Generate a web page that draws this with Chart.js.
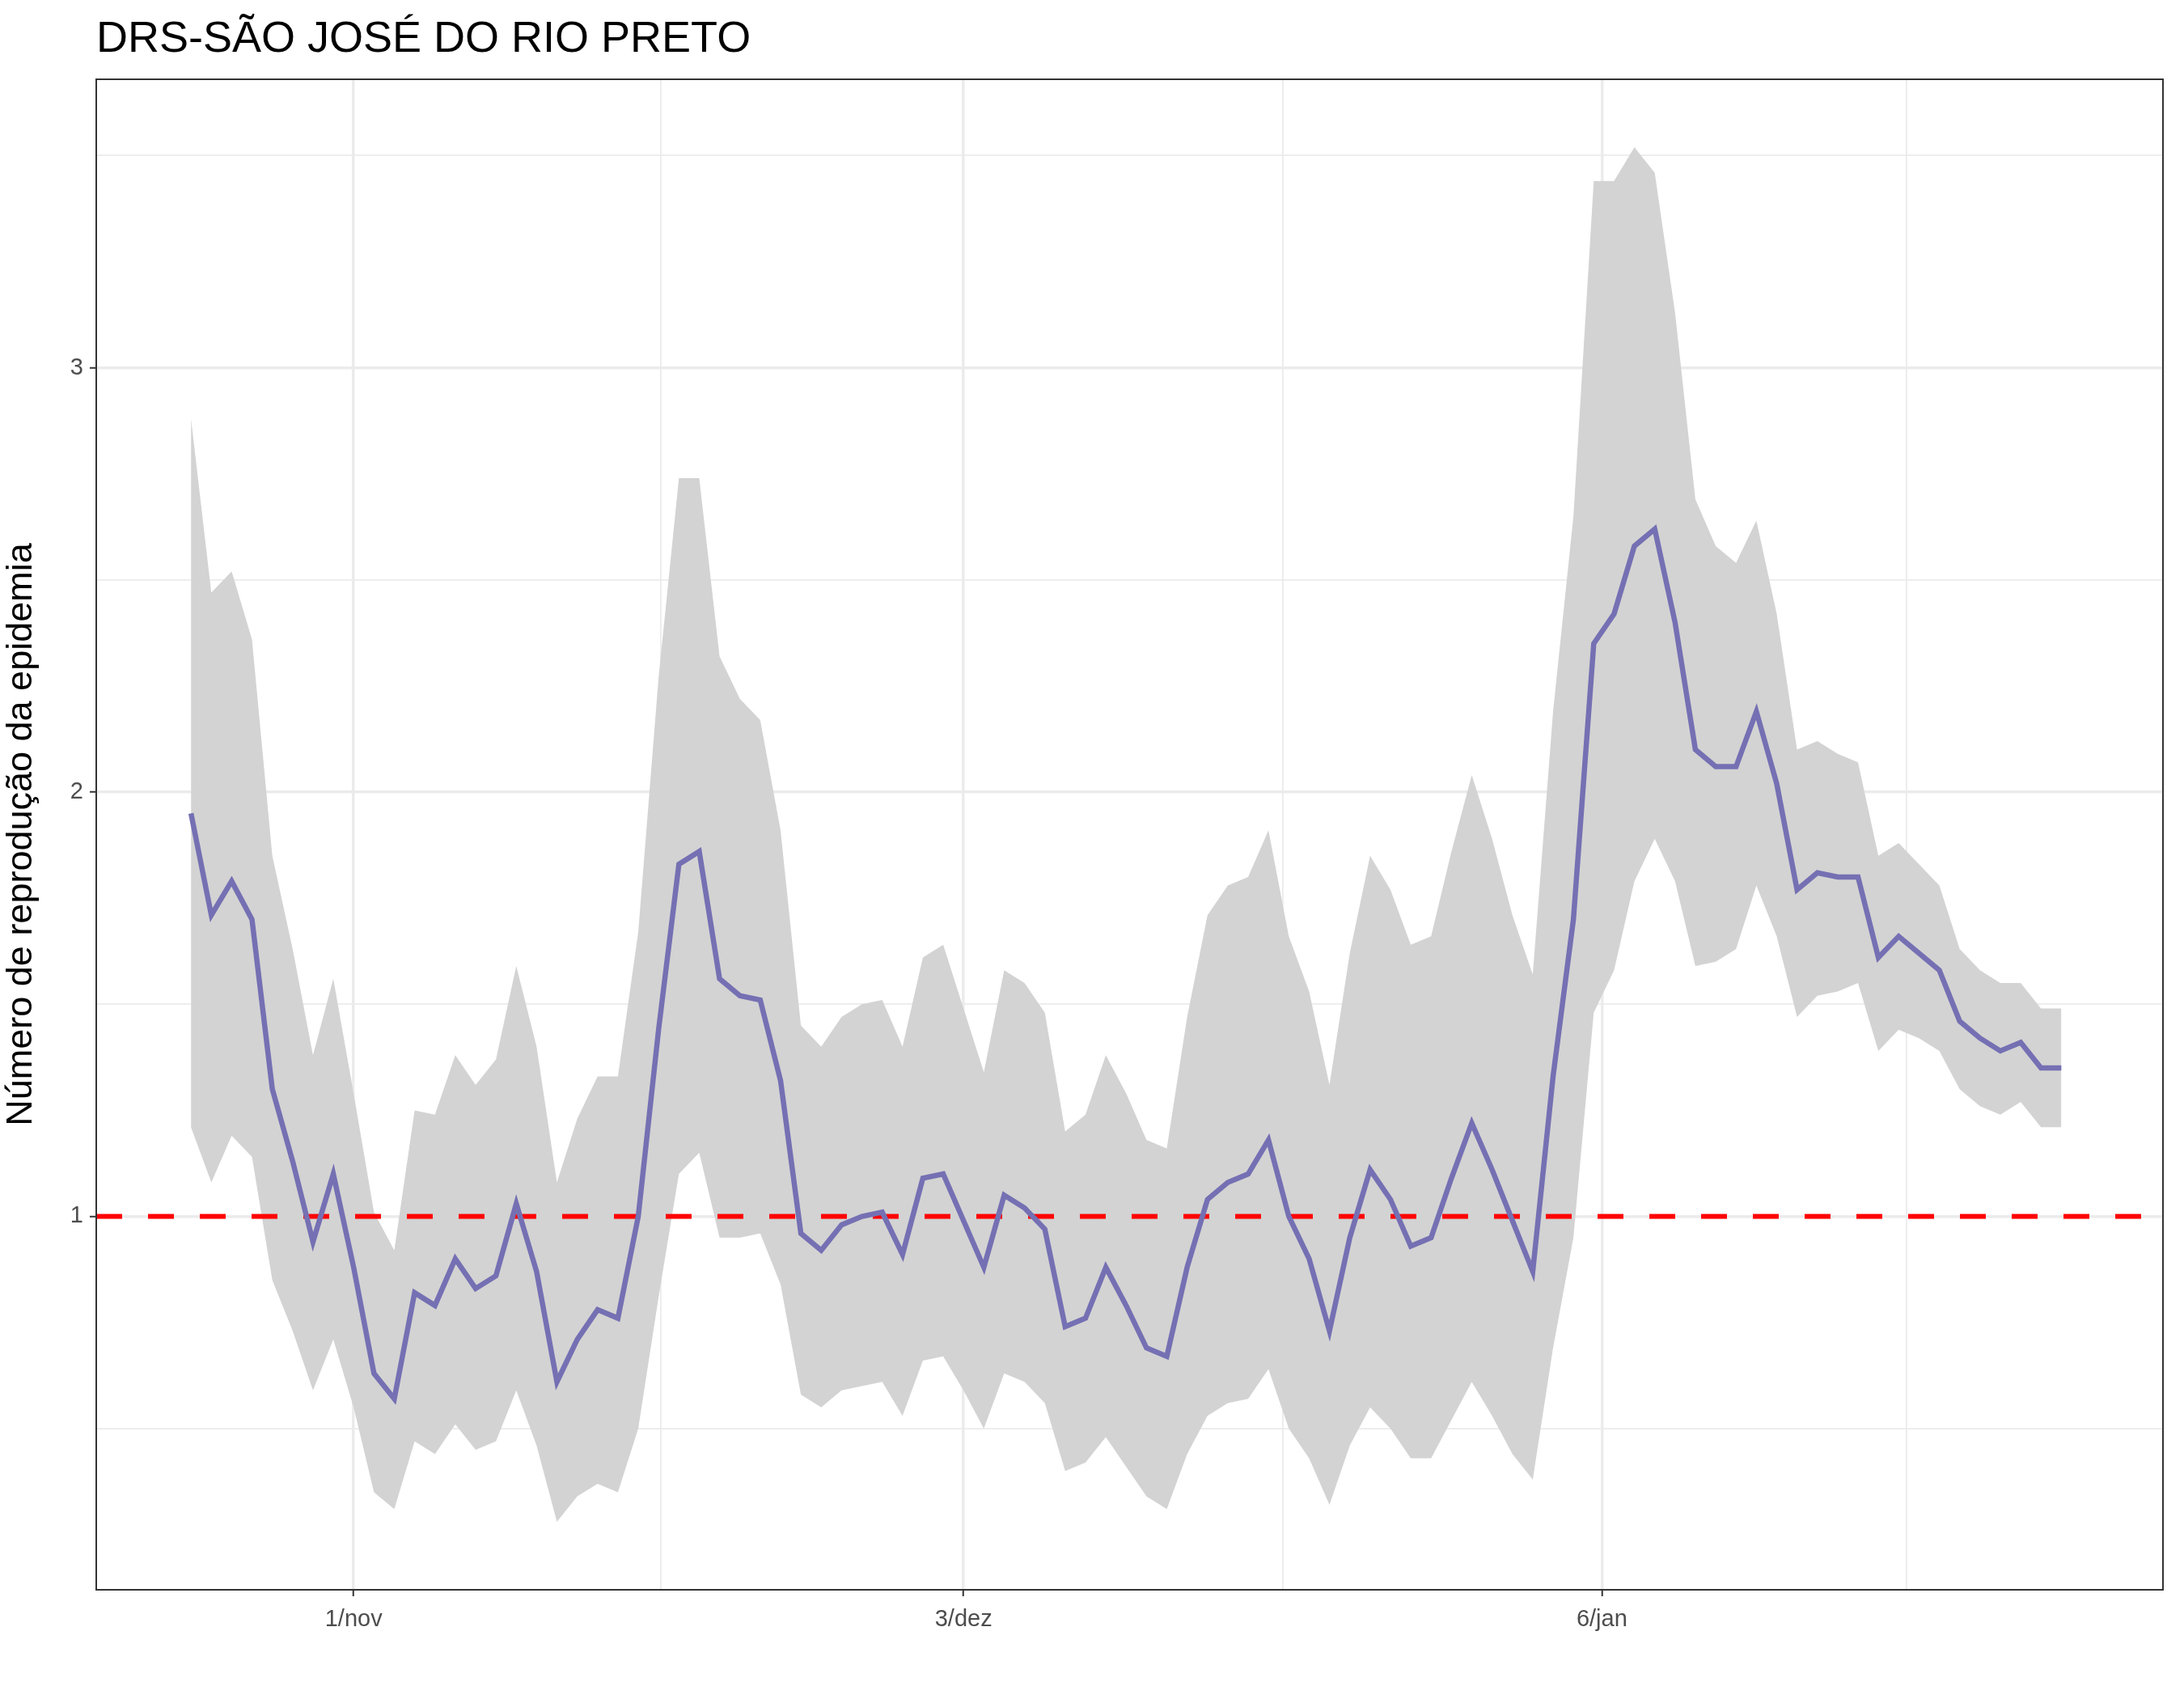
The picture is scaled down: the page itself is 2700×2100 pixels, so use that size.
<!DOCTYPE html>
<html>
<head>
<meta charset="utf-8">
<script src="https://cdn.jsdelivr.net/npm/chart.js@4/dist/chart.umd.min.js"></script>
<style>
  html, body { margin: 0; padding: 0; background: #fff; }
  #wrap { width: 2700px; height: 2100px; position: relative; }
</style>
</head>
<body>
<div id="wrap"><canvas id="grafico"></canvas></div>
<script>
// Dados (um ponto por dia)
const media = [1.95, 1.71, 1.79, 1.70, 1.30, 1.13, 0.94, 1.10, 0.88, 0.63, 0.57, 0.82, 0.79, 0.90, 0.83, 0.86,
  1.03, 0.87, 0.61, 0.71, 0.78, 0.76, 1.00, 1.44, 1.83, 1.86, 1.56, 1.52, 1.51, 1.32, 0.96, 0.92, 0.98, 1.00,
  1.01, 0.91, 1.09, 1.10, 0.99, 0.88, 1.05, 1.02, 0.97, 0.74, 0.76, 0.88, 0.79, 0.69, 0.67, 0.88, 1.04, 1.08,
  1.10, 1.18, 1.00, 0.90, 0.73, 0.95, 1.11, 1.04, 0.93, 0.95, 1.09, 1.22, 1.11, 0.99, 0.87, 1.33, 1.70, 2.35,
  2.42, 2.58, 2.62, 2.40, 2.10, 2.06, 2.06, 2.19, 2.02, 1.77, 1.81, 1.80, 1.80, 1.61, 1.66, 1.62, 1.58, 1.46,
  1.42, 1.39, 1.41, 1.35, 1.35];
const superior = [2.88, 2.47, 2.52, 2.36, 1.85, 1.63, 1.38, 1.56, 1.29, 1.01, 0.92, 1.25, 1.24, 1.38, 1.31, 1.37,
  1.59, 1.40, 1.08, 1.23, 1.33, 1.33, 1.67, 2.27, 2.74, 2.74, 2.32, 2.22, 2.17, 1.91, 1.45, 1.40, 1.47, 1.50,
  1.51, 1.40, 1.61, 1.64, 1.49, 1.34, 1.58, 1.55, 1.48, 1.20, 1.24, 1.38, 1.29, 1.18, 1.16, 1.47, 1.71, 1.78,
  1.80, 1.91, 1.66, 1.53, 1.31, 1.62, 1.85, 1.77, 1.64, 1.66, 1.86, 2.04, 1.89, 1.71, 1.57, 2.19, 2.65, 3.44,
  3.44, 3.52, 3.46, 3.13, 2.69, 2.58, 2.54, 2.64, 2.42, 2.10, 2.12, 2.09, 2.07, 1.85, 1.88, 1.83, 1.78, 1.63,
  1.58, 1.55, 1.55, 1.49, 1.49];
const inferior = [1.21, 1.08, 1.19, 1.14, 0.85, 0.73, 0.59, 0.71, 0.55, 0.35, 0.31, 0.47, 0.44, 0.51, 0.45, 0.47,
  0.59, 0.46, 0.28, 0.34, 0.37, 0.35, 0.50, 0.81, 1.10, 1.15, 0.95, 0.95, 0.96, 0.84, 0.58, 0.55, 0.59, 0.60,
  0.61, 0.53, 0.66, 0.67, 0.59, 0.50, 0.63, 0.61, 0.56, 0.40, 0.42, 0.48, 0.41, 0.34, 0.31, 0.44, 0.53, 0.56,
  0.57, 0.64, 0.50, 0.43, 0.32, 0.46, 0.55, 0.50, 0.43, 0.43, 0.52, 0.61, 0.53, 0.44, 0.38, 0.69, 0.95, 1.48,
  1.58, 1.79, 1.89, 1.79, 1.59, 1.60, 1.63, 1.78, 1.66, 1.47, 1.52, 1.53, 1.55, 1.39, 1.44, 1.42, 1.39, 1.30,
  1.26, 1.24, 1.27, 1.21, 1.21];

const xTicks = [8, 38, 69.4];
const xTickLabels = ['1/nov', '3/dez', '6/jan'];
const xMinor = [23.1, 53.7, 84.4];
const yTicks = [1, 2, 3];
const yMinor = [0.5, 1.5, 2.5, 3.5];
const xMin = -4.66, xMax = 97;
const yMin = 0.12, yMax = 3.68;
const referencia = 1;

const pontos = arr => arr.map((v, i) => ({ x: i, y: v }));
const FONTE = '"Liberation Sans", Arial, sans-serif';

// titulo e moldura no estilo ggplot
const molduraPlugin = {
  id: 'moldura',
  afterDraw(chart) {
    const { ctx, chartArea: a } = chart;
    ctx.save();
    ctx.strokeStyle = '#333333';
    ctx.lineWidth = 2;
    ctx.strokeRect(a.left, a.top, a.right - a.left, a.bottom - a.top);
    ctx.fillStyle = '#000';
    ctx.font = '54px ' + FONTE;
    ctx.textBaseline = 'alphabetic';
    ctx.fillText('DRS-SÃO JOSÉ DO RIO PRETO', a.left, 64);
    ctx.restore();
  }
};

const ehMaior = (lista, v) => lista.some(t => Math.abs(t - v) < 1e-6);

new Chart(document.getElementById('grafico'), {
  type: 'line',
  data: {
    datasets: [
      { data: pontos(superior), borderWidth: 0, pointRadius: 0, fill: '+1', backgroundColor: '#D3D3D3', tension: 0, order: 10 },
      { data: pontos(inferior), borderWidth: 0, pointRadius: 0, fill: false, backgroundColor: '#D3D3D3', tension: 0, order: 9 },
      { data: pontos(media), borderColor: '#7570B3', borderWidth: 6.5, pointRadius: 0, fill: false, tension: 0, order: 1 },
      { data: [{ x: xMin, y: referencia }, { x: xMax, y: referencia }], borderColor: '#FF0000', borderWidth: 6,
        borderDash: [32, 32], pointRadius: 0, fill: false, order: 2 }
    ]
  },
  options: {
    responsive: true,
    maintainAspectRatio: false,
    animation: false,
    layout: { padding: { top: 98, right: 26, left: 0, bottom: 0 } },
    plugins: { legend: { display: false }, tooltip: { enabled: false } },
    scales: {
      x: {
        type: 'linear', min: xMin, max: xMax,
        afterBuildTicks: s => { s.ticks = [...xTicks, ...xMinor].sort((a, b) => a - b).map(v => ({ value: v })); },
        afterFit: s => { s.height = 135; },
        ticks: {
          autoSkip: false, maxRotation: 0, color: '#4D4D4D', font: { family: FONTE, size: 29 }, padding: 12,
          callback: v => { const i = xTicks.findIndex(t => Math.abs(t - v) < 1e-6); return i >= 0 ? xTickLabels[i] : ''; }
        },
        grid: {
          color: '#EBEBEB',
          lineWidth: c => ehMaior(xTicks, c.tick.value) ? 3.5 : 1.8,
          tickColor: c => ehMaior(xTicks, c.tick.value) ? '#333333' : 'rgba(0,0,0,0)',
          tickLength: 8, tickWidth: 2
        },
        border: { display: false }
      },
      y: {
        min: yMin, max: yMax,
        afterBuildTicks: s => { s.ticks = [...yMinor, ...yTicks].sort((a, b) => a - b).map(v => ({ value: v })); },
        afterFit: s => { s.width = 119; },
        ticks: {
          autoSkip: false, color: '#4D4D4D', font: { family: FONTE, size: 29 }, padding: 8,
          callback: v => ehMaior(yTicks, v) ? String(v) : ''
        },
        grid: {
          color: '#EBEBEB',
          lineWidth: c => ehMaior(yTicks, c.tick.value) ? 3.5 : 1.8,
          tickColor: c => ehMaior(yTicks, c.tick.value) ? '#333333' : 'rgba(0,0,0,0)',
          tickLength: 8, tickWidth: 2
        },
        border: { display: false },
        title: { display: true, text: 'Número de reprodução da epidemia', color: '#000',
          font: { family: FONTE, size: 45 }, padding: { top: 0, bottom: 4 } }
      }
    }
  },
  plugins: [molduraPlugin]
});
</script>
</body>
</html>
